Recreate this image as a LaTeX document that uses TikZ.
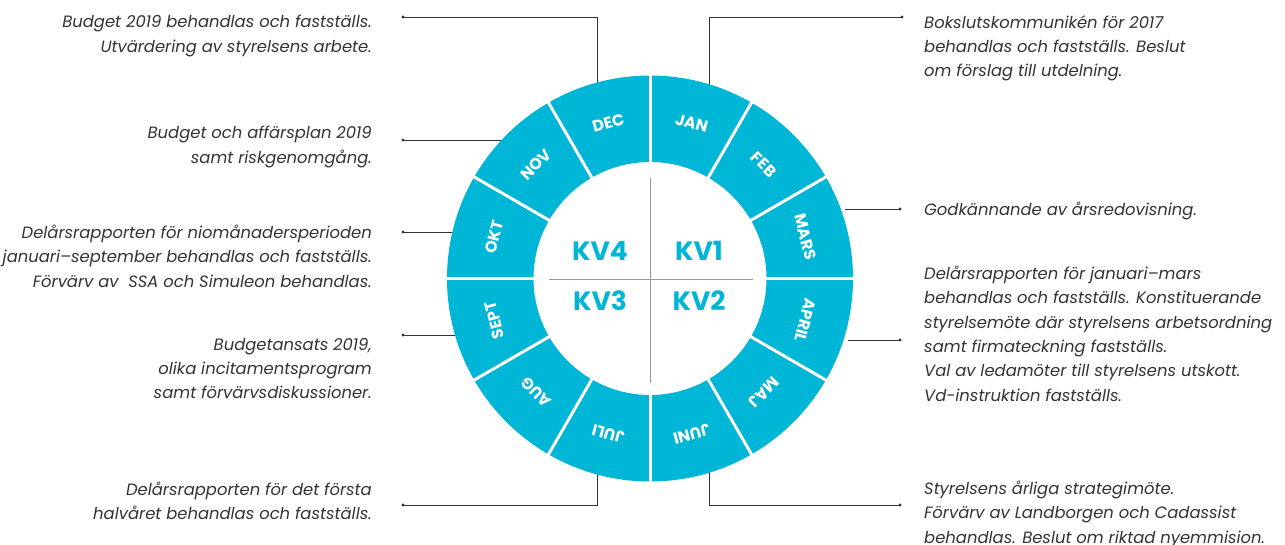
\documentclass[tikz,border=0pt]{standalone}
\usepackage{fontspec}
\setmainfont{Poppins}
\usetikzlibrary{calc}
\definecolor{kvblue}{RGB}{0,182,214}
\definecolor{notegray}{RGB}{51,51,51}
\tikzset{
 note/.style={font=\itshape\fontsize{16.4}{24.3}\selectfont, text=notegray, inner sep=0pt},
 noteleft/.style={note, anchor=north east, align=right},
 noteright/.style={note, anchor=north west, align=left},
 lead/.style={draw=notegray, line width=0.7pt},
 month/.style={font=\bfseries\fontsize{16}{18}\selectfont, text=white, inner sep=0pt},
 kv/.style={font=\bfseries\fontsize{26.5}{30}\selectfont, text=kvblue, inner sep=0pt},
}
\begin{document}
\begin{tikzpicture}[x=1pt,y=1pt]
\useasboundingbox (0,0) rectangle (1285,-544);
\coordinate (c) at (650,-278.5);

\node[noteleft] (tdec) at (372,-15) {Budget 2019 behandlas och fastställs.\\Utvärdering av styrelsens arbete.};
\node[noteleft] (tnov) at (372,-126) {Budget och affärsplan 2019\\samt riskgenomgång.};
\node[noteleft] (tokt) at (372,-225) {Delårsrapporten för niomånadersperioden\\januari–september behandlas och fastställs.\\Förvärv av \ SSA och Simuleon behandlas.};
\node[noteleft] (tsept) at (372,-338) {Budgetansats 2019,\\olika incitamentsprogram\\samt förvärvsdiskussioner.};
\node[noteleft] (tjuli) at (372,-482) {Delårsrapporten för det första\\halvåret behandlas och fastställs.};
\node[noteright] (tjan) at (924,-15) {Bokslutskommunikén för 2017\\behandlas och fastställs. Beslut\\om förslag till utdelning.};
\node[noteright] (tmars) at (924,-202) {Godkännande av årsredovisning.};
\node[noteright] (tapril) at (924,-266) {Delårsrapporten för januari–mars\\behandlas och fastställs. Konstituerande\\styrelsemöte där styrelsens arbetsordning\\samt firmateckning fastställs.\\Val av ledamöter till styrelsens utskott.\\Vd-instruktion fastställs.};
\node[noteright] (tjuni) at (924,-481) {Styrelsens årliga strategimöte.\\Förvärv av Landborgen och Cadassist\\behandlas. Beslut om riktad nyemmision.};

\coordinate (ddec) at (403,-17);   \coordinate (edec) at (597.5,-92);
\coordinate (dnov) at (403,-140);  \coordinate (enov) at (506,-140);
\coordinate (dokt) at (403,-232);  \coordinate (eokt) at (457,-232);
\coordinate (dsept) at (403,-335); \coordinate (esept) at (460,-335);
\coordinate (djuli) at (403,-505); \coordinate (ejuli) at (597.5,-465);
\coordinate (djan) at (902,-17);   \coordinate (ejan) at (709,-92);
\coordinate (dmars) at (900,-209); \coordinate (emars) at (845,-209);
\coordinate (dapril) at (900,-340);\coordinate (eapril) at (848,-340);
\coordinate (djuni) at (900,-505); \coordinate (ejuni) at (709,-465);

\draw[lead] (ddec) -| (edec);
\draw[lead] (dnov) -- (enov);
\draw[lead] (dokt) -- (eokt);
\draw[lead] (dsept) -- (esept);
\draw[lead] (djuli) -| (ejuli);
\draw[lead] (djan) -| (ejan);
\draw[lead] (dmars) -- (emars);
\draw[lead] (dapril) -- (eapril);
\draw[lead] (djuni) -| (ejuni);
\foreach \d in {ddec,dnov,dokt,dsept,djuli,djan,dmars,dapril,djuni}
  \fill[notegray] (\d) circle (1.6);

\fill[kvblue,even odd rule] (c) circle (203) (c) circle (116.5);
\foreach \a in {0,30,...,330}
  \draw[white,line width=3pt,shift={(c)}] (\a:114) -- (\a:206);
\draw[gray!80,line width=0.8pt,shift={(c)}] (0,100.5) -- (0,-104.5) (-101,-0.5) -- (103,-0.5);

\foreach \m [count=\i] in {JAN,FEB,MARS,APRIL,MAJ,JUNI,JULI,AUG,SEPT,OKT,NOV,DEC}
  \node[month,rotate={15-30*\i}] (m\i) at ($(c)+({105-30*\i}:161)$) {\m};

\node[kv] (kv4) at (600,-251) {KV4};
\node[kv] (kv1) at (699,-251) {KV1};
\node[kv] (kv3) at (600,-301) {KV3};
\node[kv] (kv2) at (699,-301) {KV2};
\end{tikzpicture}
\end{document}
